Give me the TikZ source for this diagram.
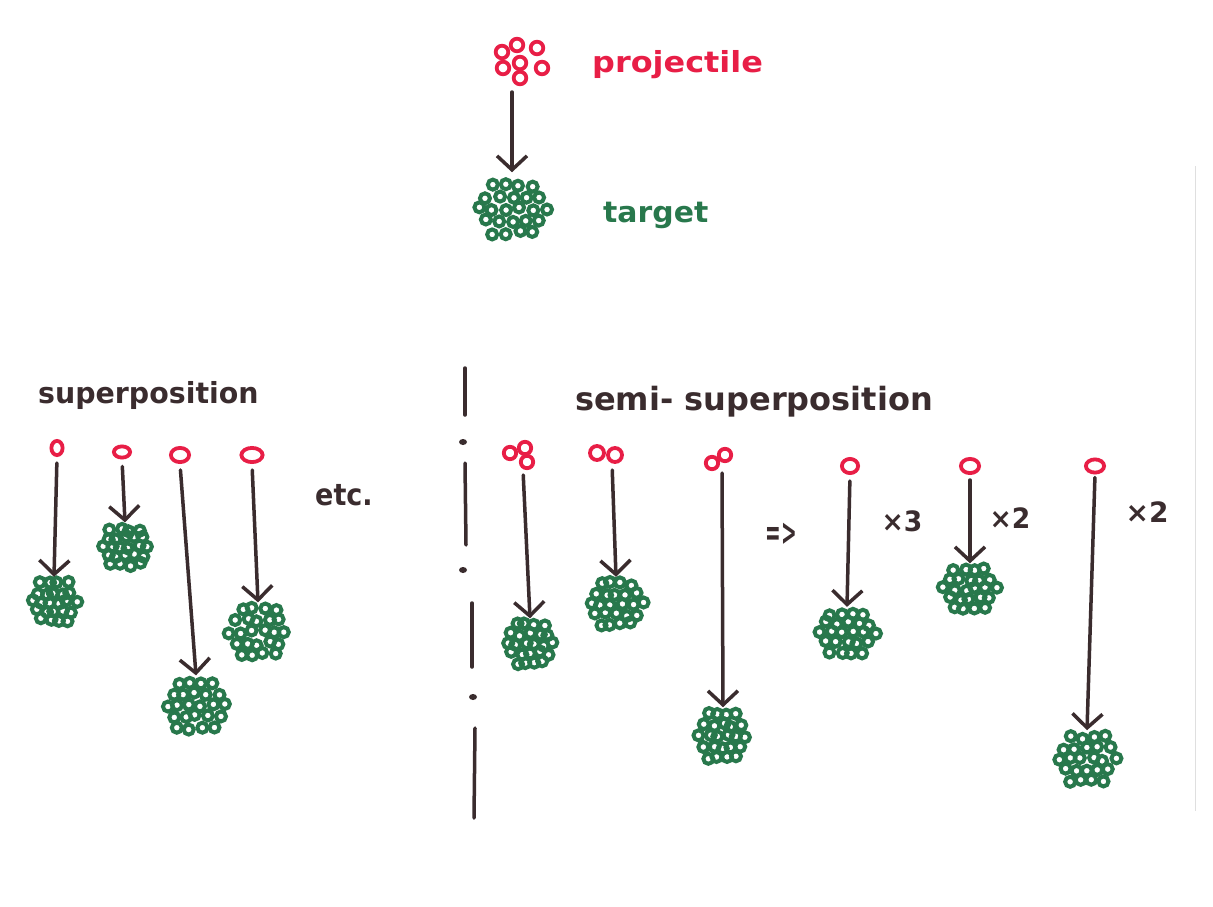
\documentclass[tikz,border=0pt]{standalone}
\usepackage{fontspec}
\usepackage{graphicx}
\usetikzlibrary{arrows.meta}
\newfontfamily\hand{DejaVu Sans}
% handwritten-looking label: size, horizontal stretch, text
\newcommand\hw[3]{{\hand\bfseries\fontsize{#1}{#1}\selectfont\scalebox{#2}[1]{#3}}}

\definecolor{pred}{RGB}{232,30,70}
\definecolor{tgreen}{RGB}{40,120,76}
\definecolor{ink}{RGB}{58,44,46}

% ring positions of a target nucleus (hexagonal packing, offsets in pt)
\newcommand\tgtlist{-18/-22,-6/-22,6/-22,18/-22,
  -24/-11,-12/-11,0/-11,12/-11,24/-11,
  -30/0,-18/0,-6/0,6/0,18/0,30/0,
  -24/11,-12/11,0/11,12/11,24/11,
  -18/22,-6/22,6/22,18/22}

% green target nucleus: name, x, y, x-stretch, y-stretch
\newcommand\targetblob[5]{%
  \node[blobbox, minimum width={60*#4+14}, minimum height={44*#5+14}] (#1) at (#2,#3) {};
  \foreach \dx/\dy in \tgtlist
    \draw[tgt] (#1.center) ++({#4*\dx+2*rand},{#5*\dy+2*rand}) circle (5pt);
}
% red projectile made of several nucleons: name, x, y, width, height, radius, offsets
\newcommand\projblob[7]{%
  \node[blobbox, minimum width=#4, minimum height=#5] (#1) at (#2,#3) {};
  \foreach \dx/\dy in {#7}
    \draw[projring] (#1.center) ++(\dx,\dy) circle (#6pt);
}
% single red nucleon: name, x, y, outer width, outer height
\newcommand\nucleon[5]{%
  \node[blobbox, minimum width=#4, minimum height=#5] (#1) at (#2,#3) {};
  \draw[projring] (#1.center) ellipse ({#4/2-1.9} and {#5/2-1.9});
}

\begin{document}
\begin{tikzpicture}[x=1pt,y=-1pt,
  blobbox/.style={rectangle, inner sep=0pt, outer sep=0pt, draw=none},
  tgt/.style={draw=tgreen, line width=4pt},
  projring/.style={draw=pred, line width=3.8pt},
  arr/.style={draw=ink, line width=3.5pt, line cap=round, line join=round,
    -{Straight Barb[length=14pt,width=30pt]}},
  lbl/.style={anchor=base west, inner sep=0pt, text=ink},
  sign/.style={anchor=center, inner sep=0pt, text=ink},
  sep/.style={draw=ink, line width=3.5pt, line cap=round}]
\pgfmathsetseed{11}
\fill[white] (0,0) rectangle (1213,907);
\useasboundingbox (0,0) rectangle (1213,907);

% faint edge of the sheet
\draw[gray!25, line width=1pt] (1195,166) -- (1195,811);

% ---- legend: projectile and target
\projblob{topproj}{512}{62}{90}{48}{6.3}{-10/-10,5/-17,25/-14,-9/6,8/1,8/16,30/6}
\targetblob{toptgt}{512}{209}{1.11}{1.08}
\draw[arr, shorten <=6pt, shorten >=6pt] (topproj.south) -- (toptgt.north);
\node[lbl, text=pred] (projlbl) at (592,73) {\hw{29}{1.1}{projectile}};
\node[lbl, text=tgreen] (tgtlbl) at (603,222) {\hw{29}{1.03}{target}};

% ---- superposition
\node[lbl] (suplbl) at (38,403) {\hw{29}{0.98}{superposition}};
\nucleon{p1}{57}{448}{15}{18}
\nucleon{p2}{122}{452}{20}{15}
\nucleon{p3}{180}{455}{22}{18}
\nucleon{p4}{252}{455}{25}{18}
\targetblob{c1}{54}{602}{0.72}{0.83}
\targetblob{c2}{125}{547}{0.76}{0.80}
\targetblob{c3}{196}{705}{0.96}{1.03}
\targetblob{c4}{258}{632}{0.92}{1.03}
\draw[arr, shorten <=6pt] (p1.south) -- (c1.north);
\draw[arr, shorten <=7pt] (p2.south) -- (c2.north);
\draw[arr, shorten <=6pt] (p3.south) -- (c3.north);
\draw[arr, shorten <=6pt] (p4.south) -- (c4.north);
\node[lbl] (etc) at (315,505) {\hw{30}{0.9}{etc.}};

% ---- dash-dotted divider
\draw[sep] (465,368) -- (465,415);
\fill[ink] (463,442) ellipse (4pt and 3pt);
\draw[sep] (465,463) -- (466,545);
\fill[ink] (463,570) ellipse (4pt and 3pt);
\draw[sep] (472,603) -- (472,667);
\fill[ink] (473,697) ellipse (4pt and 3pt);
\draw[sep] (475,728) -- (474,818);

% ---- semi-superposition
\node[lbl] (semilbl) at (575,410) {\hw{32}{1.0}{semi- superposition}};
\projblob{s1p}{523}{456}{30}{28}{6.2}{-13/-3,2/-8,4/6}
\projblob{s2p}{612}{454}{40}{18}{7}{-15/-1,3/1}
\projblob{s3p}{722}{460}{34}{22}{6.2}{-10/3,3/-5}
\targetblob{s1t}{530}{644}{0.76}{0.85}
\targetblob{s2t}{616}{604}{0.87}{0.92}
\targetblob{s3t}{723}{736}{0.76}{0.99}
\draw[arr, shorten <=5pt] (s1p.south) -- (s1t.north);
\draw[arr, shorten <=7pt] (s2p.south) -- (s2t.north);
\draw[arr, shorten <=2pt] (s3p.south) -- (s3t.north);

\node[sign] (implies) at (781,534) {{\hand\bfseries\fontsize{22}{22}\selectfont\scalebox{0.85}[1.7]{=>}}};

\nucleon{r1p}{850}{466}{20}{18}
\nucleon{r2p}{970}{466}{22}{18}
\nucleon{r3p}{1095}{466}{22}{17}
\targetblob{r1t}{847}{633}{0.92}{0.87}
\targetblob{r2t}{970}{589}{0.86}{0.85}
\targetblob{r3t}{1087}{759}{0.92}{0.99}
\draw[arr, shorten <=6pt] (r1p.south) -- (r1t.north);
\draw[arr, shorten <=5pt] (r2p.south) -- (r2t.north);
\draw[arr, shorten <=3pt] (r3p.south) -- (r3t.north);
\node[sign] (times3) at (902,521) {\hw{28}{0.95}{×3}};
\node[sign] (times2a) at (1010,518) {\hw{28}{0.95}{×2}};
\node[sign] (times2b) at (1147,512) {\hw{28}{1.0}{×2}};
\end{tikzpicture}
\end{document}
